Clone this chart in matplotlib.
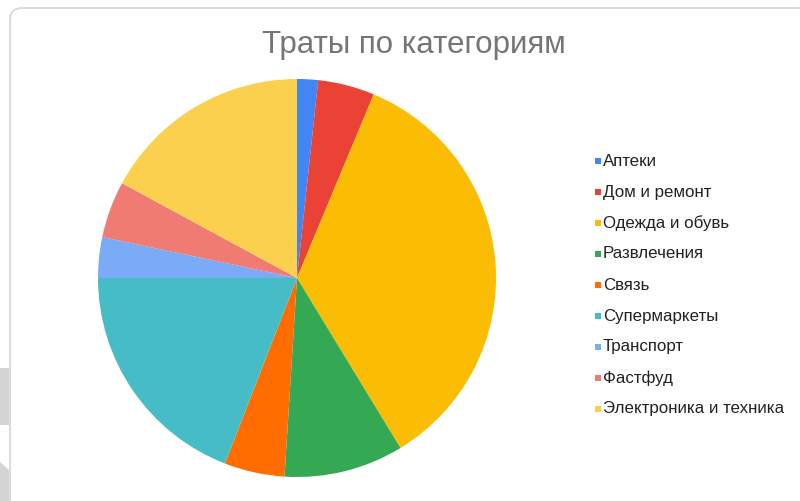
import matplotlib
matplotlib.use("Agg")
import matplotlib.pyplot as plt
from matplotlib.patches import FancyBboxPatch, Rectangle, Polygon

categories = ["Аптеки", "Дом и ремонт", "Одежда и обувь", "Развлечения", "Связь",
              "Супермаркеты", "Транспорт", "Фастфуд", "Электроника и техника"]
values = [1.7, 4.6, 35.0, 9.7, 4.9, 19.1, 3.3, 4.6, 17.1]
colors = ["#4285F4", "#EA4335", "#FBBC04", "#34A853", "#FF6D01",
          "#46BDC6", "#7BAAF7", "#F07B72", "#FCD04F"]
title = "Траты по категориям"

W, H = 800, 501
fig = plt.figure(figsize=(W / 100, H / 100), dpi=100)
fig.patch.set_facecolor("white")

def fx(px):
    return px / W

def fy(py):
    return 1 - py / H

# background decorations (card border, gray bits at left)
bg = fig.add_axes([0, 0, 1, 1])
bg.set_xlim(0, W)
bg.set_ylim(H, 0)
bg.axis("off")
bg.add_patch(Rectangle((0, 368), 9, 57, facecolor="#d4d4d4", edgecolor="none"))
bg.add_patch(Polygon([(0, 462), (9, 470), (9, 501), (0, 501)], closed=True,
                     facecolor="#d4d4d4", edgecolor="none"))
bg.add_patch(FancyBboxPatch((10, 8), 800, 510, boxstyle="round,pad=0,rounding_size=12",
                            facecolor="white", edgecolor="#d6d6d6", linewidth=1.2))

# pie
cx, cy, r = 297, 278, 199
ax = fig.add_axes([fx(cx - 200), fy(cy + 200), 400 / W, 400 / H])
ax.pie(values, colors=colors, startangle=90, counterclock=False, radius=r / 200,
       wedgeprops=dict(linewidth=0))
ax.set_xlim(-1, 1)
ax.set_ylim(-1, 1)
ax.set_aspect("equal")
ax.axis("off")

# title
fig.text(fx(414), fy(53), title, ha="center", va="baseline", fontsize=22.5,
         color="#757575", family="Liberation Sans")

# legend
y0, dy = 161, 31
for i, (lab, col) in enumerate(zip(categories, colors)):
    yy = y0 + i * dy
    bg.add_patch(Rectangle((595, yy - 3), 6, 6, facecolor=col, edgecolor="none"))
    bg.text(603, yy, lab, ha="left", va="center", fontsize=12.2,
            color="#222222", family="Liberation Sans")

fig.savefig("out.png", dpi=100, facecolor="white")
